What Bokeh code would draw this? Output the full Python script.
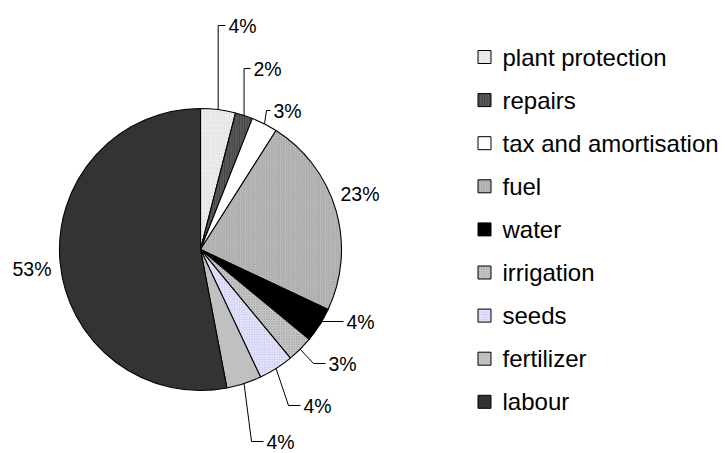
import math
from bokeh.plotting import figure
from bokeh.models import Range1d, ColumnDataSource
from bokeh.core.properties import value
from bokeh.embed import file_html
from bokeh.resources import INLINE

# ---- data -------------------------------------------------------------
categories = ["plant protection", "repairs", "tax and amortisation", "fuel",
              "water", "irrigation", "seeds", "fertilizer", "labour"]
shares = [4, 2, 3, 23, 4, 3, 4, 4, 53]          # percent of total cost
share_labels = [f"{v}%" for v in shares]

# ---- styling ----------------------------------------------------------
fills = ["#efefef", "#5a5a5a", "#ffffff", "#bfbfbf", "#000000",
         "#d4d4d4", "#e6e6fc", "#c0c0c0", "#333333"]
hatches = [".", "|", " ", "/", " ", "x", "+", " ", " "]
hatch_cols = ["#cacaca", "#343434", "#ffffff", "#a0a0a0", "#000000",
              "#9a9a9a", "#cacaf2", "#c0c0c0", "#333333"]

W, H = 725, 453
CX, CY, R = 200, 249, 141          # pie centre / radius (pixels from top-left)
FONT = "Liberation Sans"


def Y(py):
    """pixel row (from top) -> data y"""
    return H - py


# label placement: (text x, text y, elbow) in pixels; elbow None -> no leader
label_layout = [
    (228, 25, "v"),
    (253, 68, "v"),
    (273, 110, (266, 110)),
    (340, 193, None),
    (346, 321, (322, 321)),
    (328, 363, (313, 363)),
    (303, 405, (288, 405)),
    (266, 441, (251, 441)),
    (12, 268, None),
]

# ---- geometry derived from the shares ----------------------------------
total = float(sum(shares))
starts, ends, mids = [], [], []
cum = 0.0
for v in shares:
    a0 = math.pi / 2 - 2 * math.pi * cum / total
    cum += v
    a1 = math.pi / 2 - 2 * math.pi * cum / total
    starts.append(a1)   # drawn anticlockwise from a1 to a0 == clockwise slice
    ends.append(a0)
    mids.append((a0 + a1) / 2)

src = ColumnDataSource(dict(
    x=[CX] * len(shares), y=[Y(CY)] * len(shares),
    start=starts, end=ends, fill=fills, hatch=hatches, hcol=hatch_cols,
    cat=categories,
))

p = figure(width=W, height=H, x_range=Range1d(0, W), y_range=Range1d(0, H),
           output_backend="svg", toolbar_location=None, min_border=0)
p.axis.visible = False
p.grid.visible = False
p.outline_line_color = None
p.background_fill_color = "white"

p.wedge(x="x", y="y", radius=R, start_angle="start", end_angle="end",
        direction="anticlock", fill_color="fill", line_color="black",
        line_width=1.1, hatch_pattern="hatch", hatch_color="hcol",
        hatch_scale=2.5, hatch_weight=0.7, source=src)

# ---- percentage labels with leader lines --------------------------------
xs, ys = [], []
tx, ty = [], []
for m, (lx, ly, elbow) in zip(mids, label_layout):
    tx.append(lx)
    ty.append(Y(ly))
    if elbow is None:
        continue
    rx = CX + R * math.cos(m)
    ry = CY - R * math.sin(m)
    if elbow == "v":
        ex, ey = rx, ly
    else:
        ex, ey = elbow
    xs.append([rx, ex, lx - 3])
    ys.append([Y(ry), Y(ey), Y(ly)])

p.multi_line(xs=xs, ys=ys, line_color="black", line_width=1)
p.text(x=tx, y=ty, text=share_labels, text_font=value(FONT),
       text_font_size="19.5px", text_baseline="middle", text_align="left",
       text_color="black")

# ---- legend -------------------------------------------------------------
LEG_X, LEG_Y0, LEG_DY, BOX = 484, 56.5, 43.1, 13
leg_y = [Y(LEG_Y0 + i * LEG_DY) for i in range(len(categories))]
p.rect(x=[LEG_X] * len(categories), y=leg_y, width=BOX, height=BOX,
       fill_color=fills, line_color="black", line_width=1,
       hatch_pattern=hatches, hatch_color=hatch_cols, hatch_scale=2.5,
       hatch_weight=0.7)
p.text(x=[LEG_X + 18] * len(categories), y=leg_y, text=categories,
       text_font=value(FONT), text_font_size="24px", text_baseline="middle",
       text_align="left", text_color="black")

open("out.html", "w").write(file_html(p, INLINE))
